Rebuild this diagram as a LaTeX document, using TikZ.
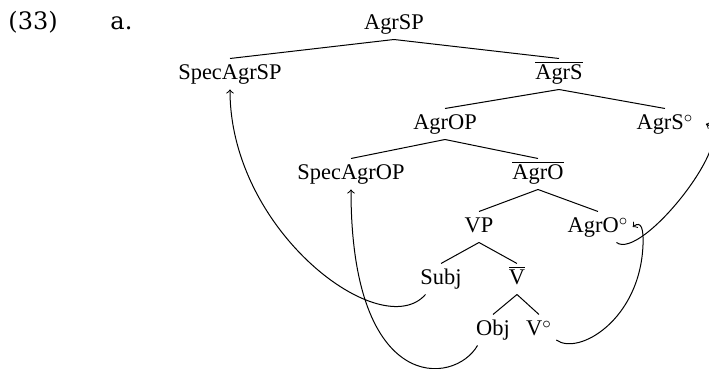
\documentclass[tikz,border=0pt]{standalone}
\usepackage{fontspec}
\setmainfont{Liberation Serif}
\newfontfamily\exfont{DejaVu Serif}
\usepackage{tikz}

\begin{document}
\begin{tikzpicture}[x=0.5pt,y=-0.5pt,line width=0.5pt,
 tn/.style={anchor=base,inner sep=2pt,text height=8.5pt,text depth=2.5pt,font=\fontsize{11.2}{13}\selectfont},
 ex/.style={anchor=base west,inner sep=0pt,font=\exfont\fontsize{12}{14}\selectfont}]
 \useasboundingbox (0,0) rectangle (709,369);
 \clip (0,0) rectangle (709,369);
 \node[ex] (num) at (8,30) {(33)};
 \node[ex] (sub) at (110,30) {a.};
 \node[tn] (agrsp) at (394,30) {AgrSP};
 \node[tn] (specagrsp) at (230,80) {SpecAgrSP};
 \node[tn] (agrsbar) at (559,80) {$\overline{\mbox{AgrS}}$};
 \node[tn] (agrop) at (445,130) {AgrOP};
 \node[tn] (agrsh) at (665,130) {AgrS$^\circ$};
 \node[tn] (specagrop) at (351,180) {SpecAgrOP};
 \node[tn] (agrobar) at (538,180) {$\overline{\mbox{AgrO}}$};
 \node[tn] (vp) at (479,233) {VP};
 \node[tn] (agroh) at (598,233) {AgrO$^\circ$};
 \node[tn] (subj) at (441,285) {Subj};
 \node[tn] (vbar) at (517,285) {$\overline{\mbox{V}}$};
 \node[tn] (obj) at (493,336) {Obj};
 \node[tn] (vh) at (539,336) {V$^\circ$};
 \draw (agrsp.south)--(specagrsp.north);
 \draw (agrsp.south)--(agrsbar.north);
 \draw (agrsbar.south)--(agrop.north);
 \draw (agrsbar.south)--(agrsh.north);
 \draw (agrop.south)--(specagrop.north);
 \draw (agrop.south)--(agrobar.north);
 \draw (agrobar.south)--(vp.north);
 \draw (agrobar.south)--(agroh.north);
 \draw (vp.south)--(subj.north);
 \draw (vp.south)--(vbar.north);
 \draw (vbar.south)--(obj.north);
 \draw (vbar.south)--(vh.north);
 \draw[->] (subj.-135) .. controls +(-44,50) and +(0,142) .. (specagrsp.south);
 \draw[->] (obj.-135) .. controls +(-23,40) and +(0,206) .. (specagrop.south);
 \draw[->] (vh.-30) .. controls +(22,16) and +(-3,75) .. (643,245) .. controls +(0.6,-15) and +(9,-7) .. (agroh.east);
 \draw[->] (agroh.-40) .. controls +(25,19) and +(34,12) .. ([xshift=4pt]agrsh.east);
\end{tikzpicture}
\end{document}
